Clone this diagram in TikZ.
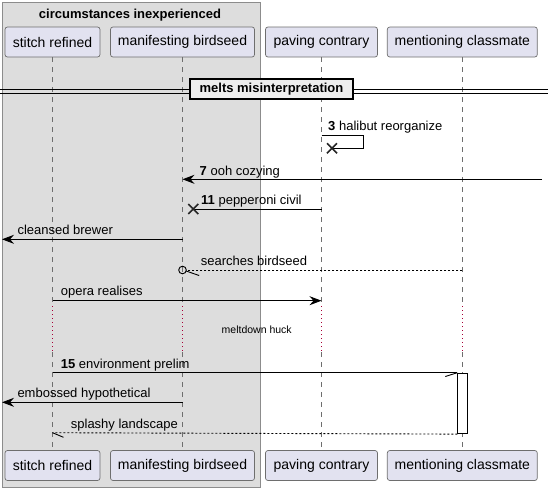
\documentclass[tikz,border=0pt]{standalone}
\usepackage{fontspec}
\setmainfont{Liberation Sans}
\usetikzlibrary{arrows.meta}
\definecolor{partfill}{HTML}{E2E2F0}
\definecolor{partdraw}{HTML}{6E6E6E}
\definecolor{boxfill}{HTML}{DDDDDD}
\definecolor{boxdraw}{HTML}{8C8C8C}
\definecolor{sepfill}{HTML}{EEEEEE}
\definecolor{delayred}{HTML}{A80036}
\definecolor{lifegray}{HTML}{6E6E6E}
\begin{document}
\begin{tikzpicture}[x=1pt,y=-1pt,
 part/.style={draw=partdraw, fill=partfill, rounded corners=2.5pt, minimum height=30pt, inner sep=0pt, line width=0.7pt, font=\fontsize{14}{16}\selectfont},
 life/.style={draw=lifegray, dash pattern=on 5pt off 5pt, line width=0.7pt},
 delayline/.style={draw=delayred, dash pattern=on 1pt off 3pt, line width=0.8pt},
 msg/.style={draw=black, line width=0.9pt},
 ret/.style={msg, dash pattern=on 2pt off 2pt},
 tip/.style={-{Stealth[length=12pt,width=9pt,inset=4pt]}},
 lbl/.style={anchor=base west, inner sep=0pt, font=\fontsize{13}{15}\selectfont},
 cross/.style={line width=1.6pt, draw=black!85}
]
\useasboundingbox (0,0) rectangle (548,491);
\fill[white] (0,0) rectangle (548,491);
% group box
\node[draw=boxdraw, fill=boxfill, line width=0.8pt, minimum width=258pt, minimum height=485pt, anchor=north west, inner sep=0pt] (grp) at (2,2) {};
\node[anchor=base, inner sep=0pt, font=\bfseries\fontsize{13}{15}\selectfont] (title) at (130,18.5) {circumstances inexperienced};
% participants
\node[part, minimum width=95pt] (sT) at (52.5,42) {stitch refined};
\node[part, minimum width=144pt] (mT) at (182.5,42) {manifesting birdseed};
\node[part, minimum width=112pt] (pT) at (321.5,42) {paving contrary};
\node[part, minimum width=150pt] (cT) at (462.3,42) {mentioning classmate};
\node[part, minimum width=95pt] (sB) at (52.5,465.5) {stitch refined};
\node[part, minimum width=144pt] (mB) at (182.5,465.5) {manifesting birdseed};
\node[part, minimum width=112pt] (pB) at (321.5,465.5) {paving contrary};
\node[part, minimum width=150pt] (cB) at (462.3,465.5) {mentioning classmate};
% lifelines
\coordinate (d1) at (0,306);
\coordinate (d2) at (0,352);
\foreach \p in {s,m,p,c}{
  \draw[life] (\p T.south) -- (\p T.south |- d1);
  \draw[delayline] (\p T.south |- d1) -- (\p T.south |- d2);
  \draw[life] (\p T.south |- d2) -- (\p B.north);
}
% activation
\node[draw=black, fill=white, line width=0.8pt, minimum width=9.6pt, minimum height=60.6pt, inner sep=0pt, anchor=north] (act) at (462.5,372.7) {};
% separator
\draw[line width=0.9pt] (0,89.5) -- (548,89.5) (0,93.5) -- (548,93.5);
\node[draw=black, fill=sepfill, line width=1.8pt, minimum width=163pt, minimum height=20pt, inner sep=0pt, font=\bfseries\fontsize{13}{15}\selectfont] (sep) at (271.5,89) {melts misinterpretation};
% message 3 (self, destroyed)
\coordinate (p3) at (pT.south |- 0,135);
\coordinate (x3) at (332,148.3);
\draw[msg] (p3) -- ++(41.6,0) -- ++(0,13.3) -- (x3);
\draw[cross] ([xshift=-5pt,yshift=-5pt]x3) -- ([xshift=5pt,yshift=5pt]x3) ([xshift=-5pt,yshift=5pt]x3) -- ([xshift=5pt,yshift=-5pt]x3);
\node[lbl] (l3) at (328,130.7) {\textbf{3} halibut reorganize};
% message 7
\coordinate (e7) at (542,179.3);
\draw[msg,tip] (e7) -- (mT.south |- e7);
\node[lbl] (l7) at (199.5,175) {\textbf{7} ooh cozying};
% message 11
\coordinate (p11) at (pT.south |- 0,209);
\coordinate (x11) at (193.3,209);
\draw[msg] (p11) -- (x11);
\draw[cross] ([xshift=-5pt,yshift=-5pt]x11) -- ([xshift=5pt,yshift=5pt]x11) ([xshift=-5pt,yshift=5pt]x11) -- ([xshift=5pt,yshift=-5pt]x11);
\node[lbl] (l11) at (201,204.3) {\textbf{11} pepperoni civil};
% cleansed brewer
\coordinate (w1) at (2,239.3);
\draw[msg,tip] (mT.south |- w1) -- (w1);
\node[lbl] (l12) at (17.3,234.3) {cleansed brewer};
% searches birdseed
\coordinate (c16) at (cT.south |- 0,270);
\coordinate (o16) at (mT.south |- 0,270);
\draw[ret] (c16) -- ([xshift=3.8pt]o16);
\draw[msg] (o16) circle[radius=3.8pt];
\draw[msg] ([xshift=3.6pt,yshift=-1pt]o16) -- ++(13,4.5);
\node[lbl] (l16) at (200.7,265) {searches birdseed};
% opera realises
\coordinate (s17) at (sT.south |- 0,300.7);
\draw[msg,tip] (s17) -- (pT.south |- s17);
\node[lbl] (l17) at (60.7,295) {opera realises};
% delay
\node[anchor=base, inner sep=0pt, font=\fontsize{10.5}{12}\selectfont] (dl) at (256.7,333.3) {meltdown huck};
% message 15
\coordinate (s15) at (sT.south |- 0,372.7);
\draw[msg] (s15) -- (act.north west);
\draw[msg] (act.north west) -- ++(-12,3.8);
\node[lbl] (l15) at (60.7,368.3) {\textbf{15} environment prelim};
% embossed hypothetical
\coordinate (w2) at (2,402.3);
\draw[msg,tip] (mT.south |- w2) -- (w2);
\node[lbl] (l18) at (17.3,397.3) {embossed hypothetical};
% splashy landscape
\coordinate (s19) at (sT.south |- 0,432.7);
\draw[ret] (act.south west) -- (s19);
\draw[msg] (s19) -- ++(11,4.6);
\node[lbl] (l19) at (70.7,428.3) {splashy landscape};
\end{tikzpicture}
\end{document}
